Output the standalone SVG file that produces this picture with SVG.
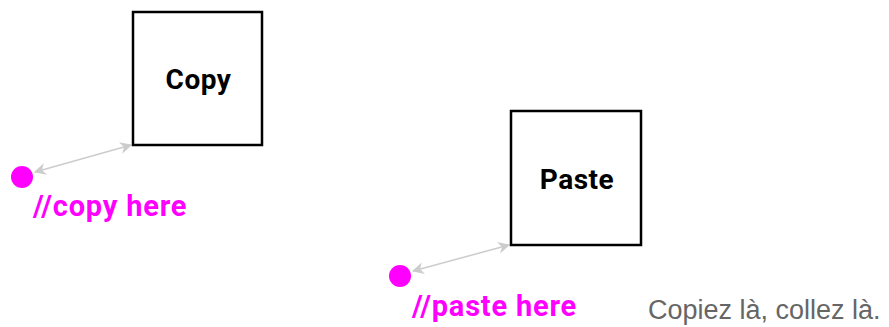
<svg xmlns="http://www.w3.org/2000/svg" width="889" height="327" viewBox="0 0 889 327">
<style>
.box{fill:#fff;stroke:#000;stroke-width:2.5}
.lbl{font-family:Roboto,"DejaVu Sans",sans-serif;font-weight:bold;font-size:28px;letter-spacing:0.5px;fill:#000;text-anchor:middle}
.pin{fill:#ff00ff}
.ptxt{font-family:Roboto,"DejaVu Sans",sans-serif;font-weight:bold;font-size:29px;letter-spacing:0.8px;fill:#ff00ff}
.conn{stroke:#cccccc;stroke-width:1.5;fill:none;marker-start:url(#ah);marker-end:url(#ah)}
.note{font-family:"Liberation Sans",Arial,sans-serif;font-size:27px;fill:#666}
</style>
<defs>
<marker id="ah" viewBox="0 0 10 10" refX="9" refY="5" markerWidth="12" markerHeight="12" markerUnits="userSpaceOnUse" orient="auto-start-reverse">
<path d="M0,0 L10,5 L0,10 L3,5 Z" fill="#cccccc"/>
</marker>
</defs>
<g id="connectors">
<line class="conn" x1="35" y1="172" x2="131" y2="145"/>
<line class="conn" x1="413" y1="271" x2="509" y2="245"/>
</g>
<g id="copy">
<rect class="box" x="133" y="12" width="129" height="133"/>
<text class="lbl" x="198.5" y="89">Copy</text>
</g>
<g id="paste">
<rect class="box" x="511" y="111" width="130" height="134"/>
<text class="lbl" x="577" y="189">Paste</text>
</g>
<g id="copy-pin">
<circle class="pin" cx="22" cy="177" r="11"/>
<text class="ptxt" x="33" y="216">//copy here</text>
</g>
<g id="paste-pin">
<circle class="pin" cx="400" cy="276" r="11"/>
<text class="ptxt" x="412" y="316">//paste here</text>
</g>
<text class="note" x="648" y="319">Copiez là, collez là.</text>
</svg>
